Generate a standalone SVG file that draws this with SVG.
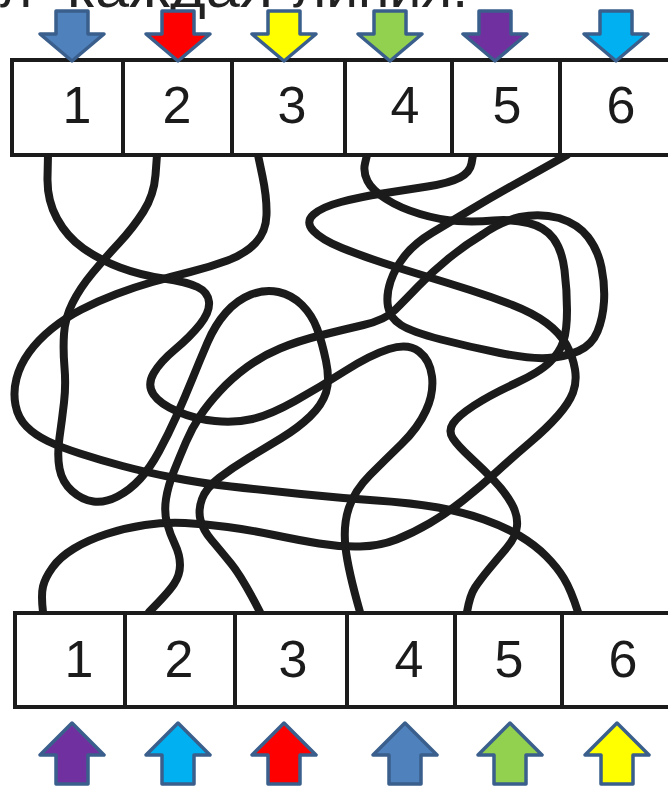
<svg xmlns="http://www.w3.org/2000/svg" width="668" height="787" viewBox="0 0 668 787">
<style>
.ln{fill:none;stroke:#1b1b1b;stroke-width:8;stroke-linecap:round;stroke-linejoin:round}
.box{fill:#fff;stroke:#1b1b1b;stroke-width:4}
.num{font-family:"Liberation Sans",Arial,sans-serif;font-size:52px;fill:#1b1b1b;text-anchor:middle}
.arr{stroke:#3A5F8C;stroke-width:3.5;stroke-linejoin:round}
.hdr{font-family:"Liberation Sans",Arial,sans-serif;font-size:55px;fill:#222}
</style>
<rect width="668" height="787" fill="#fff"/>
<g id="header">
<text class="hdr" x="0" y="7">л</text>
<text class="hdr" x="67" y="7" textLength="206" lengthAdjust="spacingAndGlyphs">каждая</text>
<text class="hdr" x="293" y="7" textLength="175" lengthAdjust="spacingAndGlyphs">линия.</text>
</g>
<g id="connectors">
<path id="line1" class="ln" d="M48,155 L47.5,177.5 Q47,200 57,218.5 Q67,237 83.5,248.5 Q100,260 120,267.5 Q140,275 163.5,278.5 Q187,282 197.5,287 Q208,292 209,302 Q210,312 200,324.5 Q190,337 175,349.5 Q160,362 153.5,373.5 Q147,385 153.5,394.5 Q160,404 177.5,411.5 Q195,419 215,421 Q235,423 252.5,419 Q270,415 295,401 Q320,387 345,371 Q370,355 389,349 Q408,343 419,351.5 Q430,360 432,376.5 Q434,393 426,410.5 Q418,428 401.5,444 Q385,460 370,475 Q355,490 349,507.5 Q343,525 345.5,547.5 Q348,570 360,612"/>
<path id="line2" class="ln" d="M157,155 L155.5,175 Q154,195 143.5,211.5 Q133,228 119,243 Q105,258 92.5,273 Q80,288 72.5,303 Q65,318 64,334 Q63,350 64.5,367.5 Q66,385 64,402.5 Q62,420 59.5,437.5 Q57,455 59.5,468.5 Q62,482 72,491 Q82,500 93.5,501.5 Q105,503 117.5,496.5 Q130,490 140,479 Q150,468 159,451.5 Q168,435 176.5,416 Q185,397 192.5,378.5 Q200,360 207.5,342.5 Q215,325 226,312.5 Q237,300 251,294.5 Q265,289 278.5,292 Q292,295 302,305 Q312,315 317,328.5 Q322,342 326,361 Q330,380 326,392.5 Q322,405 310,416.5 Q298,428 281.5,438 Q265,448 248.5,458 Q232,468 219,478 Q206,488 202,499 Q198,510 200.5,520 Q203,530 211.5,540 Q220,550 231,563.5 Q242,577 260,612"/>
<path id="line3" class="ln" d="M258,155 L262.5,176.5 Q267,198 266.5,215 Q266,232 255.5,243 Q245,254 227.5,260.5 Q210,267 190,272 Q170,277 152.5,282 Q135,287 116.5,294 Q98,301 81.5,309.5 Q65,318 51.5,329 Q38,340 29,352.5 Q20,365 16.5,378.5 Q13,392 15.5,405 Q18,418 26.5,426.5 Q35,435 47.5,441 Q60,447 80,453.5 Q100,460 122.5,466 Q145,472 172.5,477.5 Q200,483 231,486.5 Q262,490 301,494 Q340,498 376.5,500.5 Q413,503 438,507.5 Q463,512 484,519.5 Q505,527 520,536 Q535,545 546,556 Q557,567 564,578.5 Q571,590 578,612"/>
<path id="line4" class="ln" d="M367,155 L365,163.5 Q363,172 367.5,181 Q372,190 386,199 Q400,208 420,214 Q440,220 457.5,221 Q475,222 493.5,220.5 Q512,219 528.5,223 Q545,227 553.5,238.5 Q562,250 564.5,270 Q567,290 567,310 Q567,330 563.5,341 Q560,352 550,362 Q540,372 515,383.5 Q490,395 474,405.5 Q458,416 453,423.5 Q448,431 453,438.5 Q458,446 471,458 Q484,470 494.5,481 Q505,492 511.5,503.5 Q518,515 517,526 Q516,537 507,547.5 Q498,558 489,569 Q480,580 475,587.5 Q470,595 467,612"/>
<path id="line5" class="ln" d="M473,155 L471.5,163.5 Q470,172 460,177.5 Q450,183 427.5,186.5 Q405,190 382.5,193.5 Q360,197 341,202 Q322,207 313.5,214.5 Q305,222 313.5,231 Q322,240 342,248 Q362,256 383.5,263 Q405,270 426.5,276.5 Q448,283 470,290 Q492,297 512.5,305 Q533,313 546.5,323 Q560,333 566.5,345 Q573,357 575,369.5 Q577,382 573,392.5 Q569,403 558,415.5 Q547,428 530,442.5 Q513,457 496.5,472 Q480,487 463.5,500 Q447,513 430,523 Q413,533 396.5,539.5 Q380,546 360,546.5 Q340,547 319,543.5 Q298,540 274,535 Q250,530 227.5,527 Q205,524 185,523 Q165,522 145,525 Q125,528 106.5,534 Q88,540 74,548.5 Q60,557 52.5,567.5 Q45,578 43,586.5 Q41,595 43,612"/>
<path id="line6" class="ln" d="M567,155 L551,164 Q535,173 513.5,185 Q492,197 471,209.5 Q450,222 432.5,232.5 Q415,243 405,255.5 Q395,268 390.5,281.5 Q386,295 388,306.5 Q390,318 401,325 Q412,332 441,339.5 Q470,347 500,353 Q530,359 547.5,358 Q565,357 578.5,351 Q592,345 597.5,331.5 Q603,318 604,301.5 Q605,285 601.5,267.5 Q598,250 588,237 Q578,224 559,218 Q540,213 520,217 Q500,222 482.5,234.5 Q465,245 448.5,258.5 Q432,272 418.5,286 Q405,300 395,310 Q385,320 363.5,325 Q342,330 320,335.5 Q298,341 280,348.5 Q262,356 247,367 Q232,378 220,391 Q208,404 200,416 Q192,428 186,442 Q180,456 174,471 Q168,486 166,499 Q164,512 167,523 Q170,534 175,544.5 Q180,555 180,565 Q180,575 174,584 Q168,593 149,612"/>
</g>
<g id="top-boxes">
<g id="top1"><rect class="box" x="12" y="60" width="111" height="95"/><text class="num" x="77" y="123">1</text></g>
<g id="top2"><rect class="box" x="123" y="60" width="109" height="95"/><text class="num" x="177" y="123">2</text></g>
<g id="top3"><rect class="box" x="232" y="60" width="113" height="95"/><text class="num" x="292" y="123">3</text></g>
<g id="top4"><rect class="box" x="345" y="60" width="107" height="95"/><text class="num" x="405" y="123">4</text></g>
<g id="top5"><rect class="box" x="452" y="60" width="108" height="95"/><text class="num" x="507" y="123">5</text></g>
<g id="top6"><rect class="box" x="560" y="60" width="112" height="95"/><text class="num" x="621" y="123">6</text></g>
</g>
<g id="bottom-boxes">
<g id="bot1"><rect class="box" x="15" y="613" width="110" height="94"/><text class="num" x="79" y="677">1</text></g>
<g id="bot2"><rect class="box" x="125" y="613" width="110" height="94"/><text class="num" x="179" y="677">2</text></g>
<g id="bot3"><rect class="box" x="235" y="613" width="112" height="94"/><text class="num" x="293" y="677">3</text></g>
<g id="bot4"><rect class="box" x="347" y="613" width="108" height="94"/><text class="num" x="409" y="677">4</text></g>
<g id="bot5"><rect class="box" x="455" y="613" width="107" height="94"/><text class="num" x="509" y="677">5</text></g>
<g id="bot6"><rect class="box" x="562" y="613" width="110" height="94"/><text class="num" x="623" y="677">6</text></g>
</g>
<g id="top-arrows">
<g id="ta1"><polygon class="arr" fill="#4F81BD" points="56,11 88,11 88,34 104,34 72,61 40,34 56,34"/></g>
<g id="ta2"><polygon class="arr" fill="#FF0000" points="162,11 194,11 194,34 210,34 178,61 146,34 162,34"/></g>
<g id="ta3"><polygon class="arr" fill="#FFFF00" points="268,11 300,11 300,34 316,34 284,61 252,34 268,34"/></g>
<g id="ta4"><polygon class="arr" fill="#92D050" points="374,11 406,11 406,34 422,34 390,61 358,34 374,34"/></g>
<g id="ta5"><polygon class="arr" fill="#7030A0" points="479,11 511,11 511,34 527,34 495,61 463,34 479,34"/></g>
<g id="ta6"><polygon class="arr" fill="#00B0F0" points="600,11 632,11 632,34 648,34 616,61 584,34 600,34"/></g>
</g>
<g id="bottom-arrows">
<g id="ba1"><polygon class="arr" fill="#7030A0" points="72,723 104,755 88,755 88,784 56,784 56,755 40,755"/></g>
<g id="ba2"><polygon class="arr" fill="#00B0F0" points="178,723 210,755 194,755 194,784 162,784 162,755 146,755"/></g>
<g id="ba3"><polygon class="arr" fill="#FF0000" points="284,723 316,755 300,755 300,784 268,784 268,755 252,755"/></g>
<g id="ba4"><polygon class="arr" fill="#4F81BD" points="405,723 437,755 421,755 421,784 389,784 389,755 373,755"/></g>
<g id="ba5"><polygon class="arr" fill="#92D050" points="510,723 542,755 526,755 526,784 494,784 494,755 478,755"/></g>
<g id="ba6"><polygon class="arr" fill="#FFFF00" points="617,723 649,755 633,755 633,784 601,784 601,755 585,755"/></g>
</g>
</svg>
